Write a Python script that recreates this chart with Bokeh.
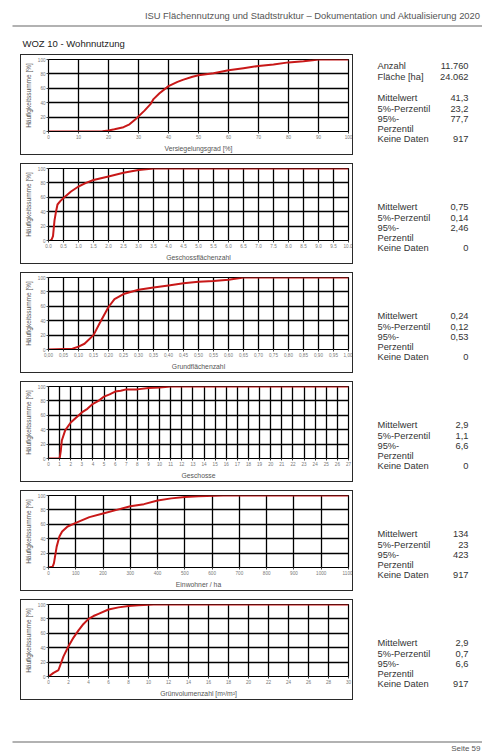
from bokeh.plotting import figure
from bokeh.models import Range1d, FixedTicker, Spacer
from bokeh.layouts import column, row
from bokeh.embed import file_html
from bokeh.resources import INLINE
from bokeh.core.properties import value

FONT = "Liberation Sans"

# ---------------- data ----------------
header_text = "ISU Flächennutzung und Stadtstruktur – Dokumentation und Aktualisierung 2020"
page_title = "WOZ 10 - Wohnnutzung"
footer_text = "Seite 59"
y_title = "Häufigkeitssumme [%]"
y_ticks = [0, 20, 40, 60, 80, 100]

anzahl_labels = ["Anzahl", "Fläche [ha]"]
anzahl_values = ["11.760", "24.062"]
stat_labels = ["Mittelwert", "5%-Perzentil", "95%-Perzentil", "Keine Daten"]

# 1 Versiegelungsgrad
vg_title = "Versiegelungsgrad [%]"
vg_x = [0, 18, 20, 22, 25, 27, 29, 30, 32, 34, 35, 37, 40, 43, 45, 48, 50, 55, 60, 65, 70, 75, 80, 85, 88, 90, 100]
vg_y = [0, 0.5, 1.4, 3, 6, 10, 17, 21, 29, 38, 45, 53, 63, 69, 72, 76, 78, 81, 85, 88, 91, 93, 96, 97.5, 98.8, 100, 100]
vg_ticks = [0, 10, 20, 30, 40, 50, 60, 70, 80, 90, 100]
vg_ticklabels = ["0", "10", "20", "30", "40", "50", "60", "70", "80", "90", "100"]
vg_stats = ["41,3", "23,2", "77,7", "917"]

# 2 Geschossflächenzahl
gfz_title = "Geschossflächenzahl"
gfz_x = [0.05, 0.1, 0.15, 0.2, 0.25, 0.3, 0.4, 0.5, 0.75, 1.0, 1.25, 1.5, 2.0, 2.5, 3.0, 3.5, 10.0]
gfz_y = [0, 1, 6, 28, 40, 50, 55, 59, 68, 75, 80, 84, 89, 94, 98, 100, 100]
gfz_ticks = [0.0, 0.5, 1.0, 1.5, 2.0, 2.5, 3.0, 3.5, 4.0, 4.5, 5.0, 5.5, 6.0, 6.5, 7.0, 7.5, 8.0, 8.5, 9.0, 9.5, 10.0]
gfz_ticklabels = ["0.0", "0.5", "1.0", "1.5", "2.0", "2.5", "3.0", "3.5", "4.0", "4.5", "5.0",
                  "5.5", "6.0", "6.5", "7.0", "7.5", "8.0", "8.5", "9.0", "9.5", "10.0"]
gfz_stats = ["0,75", "0,14", "2,46", "0"]

# 3 Grundflächenzahl
grz_title = "Grundflächenzahl"
grz_x = [0.0, 0.08, 0.10, 0.12, 0.15, 0.17, 0.20, 0.22, 0.25, 0.30, 0.35, 0.40, 0.45, 0.50, 0.55, 0.60, 0.65, 1.0]
grz_y = [0, 1, 4, 8, 20, 36, 59, 70, 77, 83, 86, 89, 92, 94, 95, 97, 100, 100]
grz_ticks = [0.0, 0.05, 0.1, 0.15, 0.2, 0.25, 0.3, 0.35, 0.4, 0.45, 0.5,
             0.55, 0.6, 0.65, 0.7, 0.75, 0.8, 0.85, 0.9, 0.95, 1.0]
grz_ticklabels = ["0,00", "0,05", "0,10", "0,15", "0,20", "0,25", "0,30", "0,35", "0,40", "0,45", "0,50",
                  "0,55", "0,60", "0,65", "0,70", "0,75", "0,80", "0,85", "0,90", "0,95", "1,00"]
grz_stats = ["0,24", "0,12", "0,53", "0"]

# 4 Geschosse
g_title = "Geschosse"
g_x = [0, 1.0, 1.1, 1.2, 1.5, 2.0, 2.5, 3.0, 3.5, 4.0, 4.5, 5.0, 5.5, 6.0, 6.5, 7.0, 8.0, 9.0, 10.0, 11.0, 27]
g_y = [0, 0, 10, 25, 39, 50, 57, 64, 69, 76, 80, 86, 89, 93, 94, 96, 96, 98, 98.5, 100, 100]
g_ticks = list(range(0, 28))
g_ticklabels = [str(t) for t in range(0, 28)]
g_stats = ["2,9", "1,1", "6,6", "0"]

# 5 Einwohner / ha
ew_title = "Einwohner / ha"
ew_x = [0, 15, 20, 30, 40, 50, 70, 100, 150, 200, 250, 300, 350, 400, 450, 500, 550, 640, 1100]
ew_y = [0, 1, 6, 29, 43, 50, 57, 62, 70, 75, 80, 85, 88, 93, 96, 98, 99, 100, 100]
ew_ticks = [0, 100, 200, 300, 400, 500, 600, 700, 800, 900, 1000, 1100]
ew_ticklabels = ["0", "100", "200", "300", "400", "500", "600", "700", "800", "900", "1000", "1100"]
ew_stats = ["134", "23", "423", "917"]

# 6 Grünvolumenzahl
gv_title = "Grünvolumenzahl [m³/m²]"
gv_x = [0, 0.5, 1.0, 1.5, 2.0, 2.5, 3.0, 3.5, 4.0, 4.5, 5.0, 6.0, 7.0, 8.0, 9.0, 10.5, 30]
gv_y = [0, 5, 9, 28, 42, 54, 64, 73, 80, 84, 87, 93, 96, 98, 99, 100, 100]
gv_ticks = list(range(0, 31, 2))
gv_ticklabels = [str(t) for t in range(0, 31, 2)]
gv_stats = ["2,9", "0,7", "6,6", "917"]

charts = [
    (vg_x, vg_y, vg_ticks, vg_ticklabels, vg_title, vg_stats),
    (gfz_x, gfz_y, gfz_ticks, gfz_ticklabels, gfz_title, gfz_stats),
    (grz_x, grz_y, grz_ticks, grz_ticklabels, grz_title, grz_stats),
    (g_x, g_y, g_ticks, g_ticklabels, g_title, g_stats),
    (ew_x, ew_y, ew_ticks, ew_ticklabels, ew_title, ew_stats),
    (gv_x, gv_y, gv_ticks, gv_ticklabels, gv_title, gv_stats),
]

# ---------------- layout constants ----------------
PAGE_W = 482
PAGE_H = 752
HEADER_H = 54
LEFT_PAD = 20
BOX_W = 333
BOX_H = 101
STATS_W = PAGE_W - LEFT_PAD - BOX_W
GAP = 8
TEXT_C = "#333333"
BOX_C = "#2a2a2a"


def blank(w, h):
    f = figure(width=w, height=h, output_backend="svg", toolbar_location=None, title=None,
               x_range=Range1d(0, w), y_range=Range1d(h, 0),
               x_axis_location=None, y_axis_location=None, min_border=0)
    f.grid.visible = False
    f.outline_line_color = None
    f.background_fill_color = None
    f.border_fill_color = None
    return f


def chart(xs, ys, ticks, ticklabels, title):
    p = figure(width=BOX_W - 2, height=BOX_H - 2, output_backend="svg", toolbar_location=None, title=None,
               x_range=Range1d(ticks[0], ticks[-1]), y_range=Range1d(0, 100),
               min_border_left=22, min_border_right=4, min_border_top=4, min_border_bottom=23)
    p.outline_line_color = "black"
    p.outline_line_width = 1.2
    p.xaxis.ticker = FixedTicker(ticks=ticks)
    p.xaxis.major_label_overrides = {t: l for t, l in zip(ticks, ticklabels)}
    p.yaxis.ticker = FixedTicker(ticks=y_ticks)
    for ax in (p.xaxis, p.yaxis):
        ax.axis_line_color = "black"
        ax.major_tick_line_color = "#444444"
        ax.major_tick_out = 2
        ax.major_tick_in = 0
        ax.minor_tick_line_color = None
        ax.major_label_text_font = FONT
        ax.major_label_text_font_size = "4.6px"
        ax.major_label_text_color = "#777777"
        ax.major_label_standoff = 1
        ax.axis_label_text_font = FONT
        ax.axis_label_text_font_style = "normal"
        ax.axis_label_text_color = "#555555"
    p.xaxis.axis_label = title
    p.xaxis.axis_label_text_font_size = "6.8px"
    p.xaxis.axis_label_standoff = 3
    p.yaxis.axis_label = y_title
    p.yaxis.axis_label_text_font_size = "6.5px"
    p.yaxis.axis_label_standoff = 3
    p.grid.grid_line_color = "black"
    p.grid.grid_line_width = 1.3
    p.line(xs, ys, line_color="#c81818", line_width=2, line_join="round")
    return p


def boxed(p):
    hl = lambda: Spacer(width=BOX_W, height=1, styles={"background-color": BOX_C})
    vl = lambda: Spacer(width=1, height=BOX_H - 2, styles={"background-color": BOX_C})
    return column(hl(), row(vl(), p, vl()), hl())


def stats_fig(vals, first):
    s = blank(STATS_W, BOX_H)
    lx, vx = 24, 115
    fs = "9.3px"
    if first:
        s.text(x=[lx, lx], y=[11, 22], text=anzahl_labels, text_font=value(FONT),
               text_font_size=fs, text_color=TEXT_C, text_baseline="middle", text_align="left")
        s.text(x=[vx, vx], y=[11, 22], text=anzahl_values, text_font=value(FONT),
               text_font_size=fs, text_color=TEXT_C, text_baseline="middle", text_align="right")
    yy = 43.5
    lab_lines, lab_y, val_y = [], [], []
    for lab in stat_labels:
        if lab == "95%-Perzentil":
            lab_lines += ["95%-", "Perzentil"]
            lab_y += [yy, yy + 9.6]
            val_y.append(yy)
            yy += 20.2
        else:
            lab_lines.append(lab)
            lab_y.append(yy)
            val_y.append(yy)
            yy += 10.6
    s.text(x=[lx] * len(lab_lines), y=lab_y, text=lab_lines, text_font=value(FONT),
           text_font_size=fs, text_color=TEXT_C, text_baseline="middle", text_align="left")
    s.text(x=[vx] * len(vals), y=val_y, text=vals, text_font=value(FONT),
           text_font_size=fs, text_color=TEXT_C, text_baseline="middle", text_align="right")
    return s


# header
hdr = blank(PAGE_W, HEADER_H)
hdr.text(x=[480], y=[15], text=[header_text], text_font=value(FONT), text_font_size="9.4px",
         text_color="#555555", text_align="right", text_baseline="middle")
hdr.segment(x0=[12], y0=[25.5], x1=[PAGE_W], y1=[25.5], line_color="#999999", line_width=1.5)
hdr.text(x=[22], y=[43], text=[page_title], text_font=value(FONT), text_font_size="9.5px",
         text_color="#222222", text_align="left", text_baseline="middle")

items = [hdr]
for i, (xs, ys, ticks, tl, title, vals) in enumerate(charts):
    if i > 0:
        items.append(Spacer(width=PAGE_W, height=GAP))
    items.append(row(Spacer(width=LEFT_PAD, height=BOX_H), boxed(chart(xs, ys, ticks, tl, title)),
                     stats_fig(vals, i == 0)))

used = HEADER_H + 6 * BOX_H + 5 * GAP
fh = PAGE_H - used
ftr = blank(PAGE_W, fh)
ftr.segment(x0=[12], y0=[41.5], x1=[PAGE_W], y1=[41.5], line_color="#999999", line_width=1.5)
ftr.text(x=[480], y=[43], text=[footer_text], text_font=value(FONT), text_font_size="8px",
         text_color="#555555", text_align="right", text_baseline="top")
items.append(ftr)

page = column(*items)
open("out.html", "w").write(file_html(page, INLINE))
